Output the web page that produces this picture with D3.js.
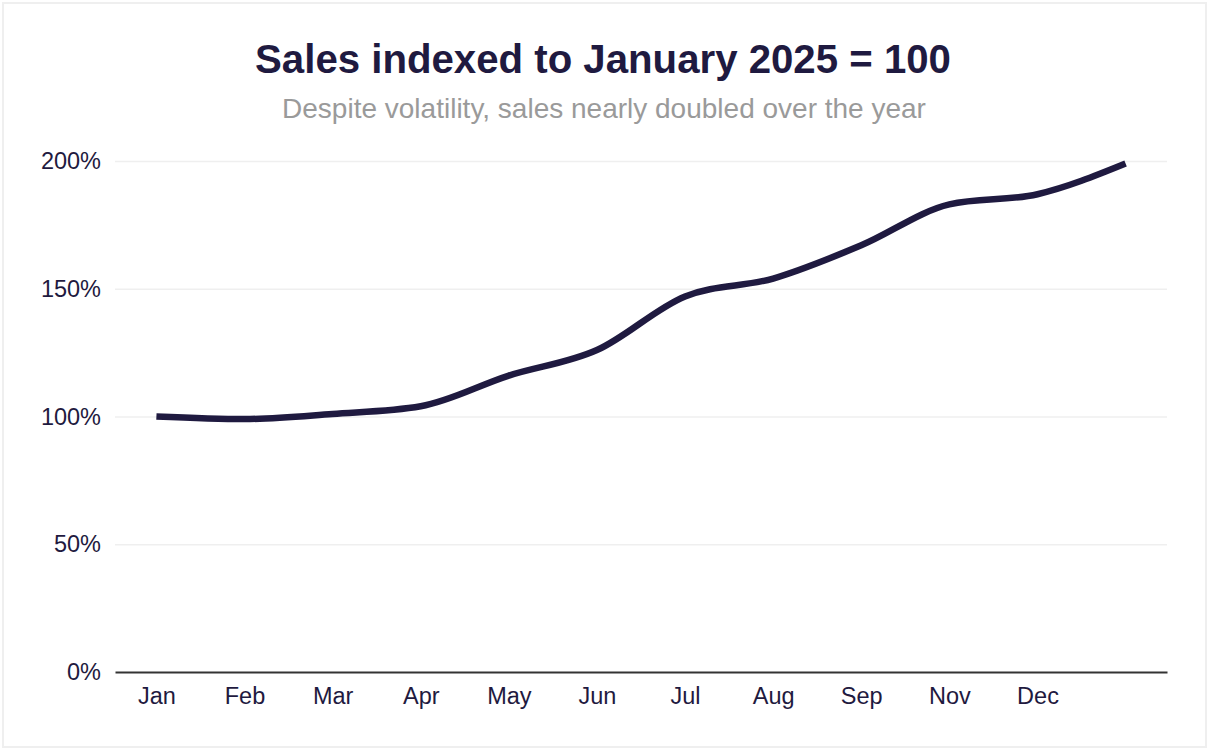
<!DOCTYPE html>
<html>
<head>
<meta charset="utf-8">
<script src="https://cdn.jsdelivr.net/npm/d3@7"></script>
<style>
  html, body { margin: 0; padding: 0; background: #fff; }
  body { width: 1212px; height: 750px; overflow: hidden; }
  .card { position: absolute; left: 2px; top: 2px; width: 1201px; height: 742px; border: 2px solid #efefef; }
  svg { position: absolute; left: 0; top: 0; }
  text { font-family: "Liberation Sans", Arial, Helvetica, sans-serif; }
</style>
</head>
<body>
<div class="card"></div>
<svg id="chart" width="1212" height="750"></svg>
<script>
const title = "Sales indexed to January 2025 = 100";
const subtitle = "Despite volatility, sales nearly doubled over the year";
// 12 monthly observations (index relative to January 2025 = 100)
const periods = ["P1","P2","P3","P4","P5","P6","P7","P8","P9","P10","P11","P12"];
const salesIndex = [100, 99, 101, 104, 116, 126, 147, 154, 167, 183, 187, 199];
// tick labels as shown on the original axis (placed on the first 11 periods)
const xTickLabels = ["Jan","Feb","Mar","Apr","May","Jun","Jul","Aug","Sep","Nov","Dec"];
const yTicks = [0, 50, 100, 150, 200];

(function () {
  const ink = "#1f1a40";
  const svg = d3.select("#chart");
  const mLeft = 115, mRight = 1167, mTop = 161, mBottom = 672;

  const x = d3.scalePoint().domain(periods).range([mLeft, mRight]).padding(0.47);
  const y = d3.scaleLinear().domain([0, 200]).range([mBottom, mTop]);

  svg.append("text").attr("x", 603).attr("y", 73).attr("text-anchor", "middle")
    .attr("font-size", 40.2).attr("font-weight", "bold").attr("fill", ink).text(title);
  svg.append("text").attr("x", 604).attr("y", 118).attr("text-anchor", "middle")
    .attr("font-size", 28).attr("fill", "#9a9a9a").text(subtitle);

  // grid + y labels
  const yAxis = d3.axisLeft(y).tickValues(yTicks).tickFormat(d => d + "%")
    .tickSize(-(mRight - mLeft)).tickPadding(14);
  const gy = svg.append("g").attr("transform", `translate(${mLeft},0)`).call(yAxis);
  gy.select(".domain").remove();
  gy.selectAll(".tick line").attr("stroke", "#efefef").attr("stroke-width", 1.5);
  gy.selectAll(".tick text").attr("font-size", 23.5).attr("fill", ink)
    .attr("font-family", "Liberation Sans, Arial, sans-serif");
  gy.selectAll(".tick").filter(d => d === 0).select("line").remove();

  // x axis
  const xAxis = d3.axisBottom(x).tickSizeOuter(0).tickSize(0).tickPadding(15)
    .tickFormat((d, i) => xTickLabels[i] || "");
  const gx = svg.append("g").attr("transform", `translate(0,${mBottom})`).call(xAxis);
  gx.select(".domain").attr("stroke", "#333").attr("stroke-width", 2);
  gx.selectAll(".tick text").attr("font-size", 23.5).attr("fill", ink)
    .attr("font-family", "Liberation Sans, Arial, sans-serif");

  // line
  const line = d3.line().x((d, i) => x(periods[i])).y(d => y(d)).curve(d3.curveMonotoneX);
  svg.append("path").datum(salesIndex).attr("d", line)
    .attr("fill", "none").attr("stroke", ink).attr("stroke-width", 6.5)
    .attr("stroke-linecap", "butt").attr("stroke-linejoin", "round");
})();
</script>
</body>
</html>
